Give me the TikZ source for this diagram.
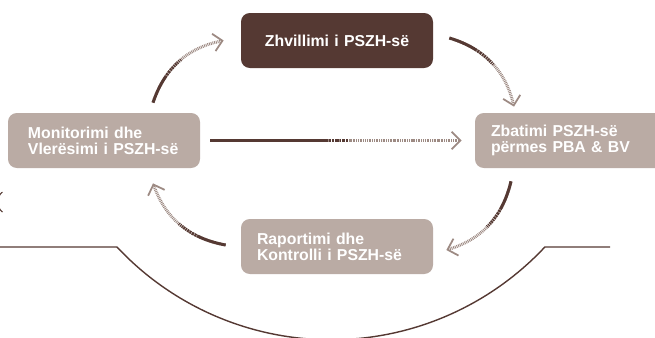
\documentclass[tikz,border=0pt]{standalone}
\usepackage{fontspec}
\setmainfont{Liberation Sans}
\usetikzlibrary{calc,arrows.meta}
\definecolor{darkbrown}{HTML}{553933}
\definecolor{lightbrown}{HTML}{BAABA4}
\definecolor{tipbrown}{HTML}{8C756D}
\tikzset{
  phase/.style={rounded corners=5pt, minimum width=3.84cm, minimum height=1.1cm,
    inner xsep=0.32cm, text width=3.2cm, align=left, text=white,
    font=\fontsize{9}{9.1}\selectfont\bfseries},
  flowdot/.style={line width=1.7pt, tipbrown!85, dash pattern=on 0.5pt off 0.5pt,
    -{Straight Barb[length=5pt,width=10pt,line width=1pt]}},
  flowsolid/.style={line width=1.7pt, darkbrown,
    dash pattern=on #1 off 0.5pt on 1.2pt off 0.5pt on 1.2pt off 0.5pt on 1pt off 0.5pt on 1pt off 0.5pt
      on 0.8pt off 0.5pt on 0.8pt off 0.5pt on 0.7pt off 0.6pt on 0.6pt off 0.6pt on 0.5pt off 20cm},
  baseline/.style={darkbrown, line width=0.8pt}
}
\def\flowarrow#1#2#3#4{\draw[flowdot] (#1) to[#3] (#2);
  \draw[flowsolid=#4] (#1) to[#3] (#2);}

\begin{document}
\begin{tikzpicture}
			%%%%% START %%%%%
			\useasboundingbox (0, 0) rectangle (13.1, 6.74);
			
			\node[phase, fill=darkbrown, minimum width=3.8cm, align=center] (zh) at (6.74, 5.93) {Zhvillimi i PSZH-së};
			\node[phase, fill=lightbrown, inner xsep=0.4cm, text width=3.04cm] (mon) at (2.08, 3.93) {Monitorimi dhe\\Vlerësimi i PSZH-së};
			\node[phase, fill=lightbrown] (zb) at (11.42, 3.93) {Zbatimi PSZH-së\\përmes PBA \& BV};
			\node[phase, fill=lightbrown, minimum width=3.8cm] (rk) at (6.74, 1.81) {Raportimi dhe\\Kontrolli i PSZH-së};
			
			\flowarrow{$(mon.north)+(0.98,0.2)$}{$(zh.west)+(-0.34,0)$}{bend left=30}{0.6cm}
			\flowarrow{$(zh.east)+(0.32,0.05)$}{$(zb.north)+(-1.14,0.12)$}{bend left=30}{0.6cm}
			\flowarrow{$(zb.south)+(-1.2,-0.26)$}{$(rk.east)+(0.26,-0.07)$}{bend left=30}{0.6cm}
			\flowarrow{$(rk.west)+(-0.3,0.03)$}{$(mon.south)+(0.98,-0.3)$}{bend left=30}{0.6cm}
			\flowarrow{$(mon.east)+(0.2,0)$}{$(zb.west)+(-0.26,0)$}{bend left=0}{2.3cm}
			
			\draw[baseline] (-0.1, 1.8) -- (2.34, 1.8) arc (223.1:316.9:5.86) -- (12.2, 1.8);
			\draw[baseline, line width=0.6pt] (0.05, 2.9) .. controls (-0.08, 2.8) and (-0.08, 2.6) .. (0.05, 2.5);
			%%%%% END %%%%%
		\end{tikzpicture}
\end{document}
